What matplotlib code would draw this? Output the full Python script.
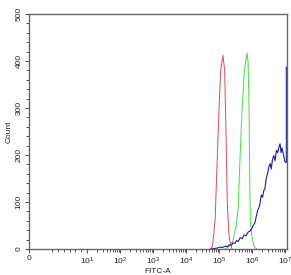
import matplotlib

matplotlib.use("Agg")

import matplotlib.pyplot as plt
from matplotlib.ticker import FixedLocator, FuncFormatter, NullFormatter

plt.rcParams["font.family"] = ["Liberation Sans", "DejaVu Sans"]
plt.rcParams["mathtext.fontset"] = "custom"
plt.rcParams["mathtext.rm"] = "Liberation Sans"
plt.rcParams["mathtext.it"] = "Liberation Sans"

# FITC-A intensity (log10) and event counts
red_log = [4.73, 4.80, 4.88, 4.95, 5.00, 5.05, 5.12, 5.17, 5.21, 5.25, 5.29, 5.33, 5.39]
red_count = [0, 5, 60, 200, 300, 380, 412, 380, 250, 100, 40, 17, 0]

green_log = [5.18, 5.30, 5.42, 5.52, 5.58, 5.64, 5.70, 5.77, 5.85, 5.88, 5.91, 5.93,
             5.95, 6.00, 6.05, 6.10, 6.15]
green_count = [0, 5, 17, 50, 88, 200, 300, 380, 417, 400, 300, 150, 60, 25, 8, 2, 0]

blue_log = [4.75, 4.85, 4.95, 5.03, 5.10, 5.18, 5.25, 5.32, 5.38, 5.42, 5.48, 5.53,
            5.58, 5.64, 5.70, 5.76, 5.82, 5.88, 5.94, 6.00, 6.05, 6.09, 6.13, 6.17,
            6.21, 6.24, 6.28, 6.32, 6.36, 6.39, 6.43, 6.47, 6.51, 6.55, 6.58, 6.62,
            6.66, 6.70, 6.74, 6.78, 6.82, 6.85, 6.88, 6.91, 6.94, 6.97, 7.00, 7.04, 7.04]
blue_count = [0, 1, 2, 4, 3, 6, 5, 9, 8, 13, 12, 18, 16, 24, 22, 30, 28, 36, 38, 45,
              52, 56, 70, 82, 88, 96, 115, 110, 125, 128, 150, 160, 175, 182, 170, 190,
              199, 188, 210, 205, 218, 224, 205, 215, 205, 195, 185, 184, 387]

x_major = [0, 1e1, 1e2, 1e3, 1e4, 1e5, 1e6, 1e7]
x_labels = ["0", "$10^{1}$", "$10^{2}$", "$10^{3}$", "$10^{4}$", "$10^{5}$", "$10^{6}$", "$10^{7}$"]
y_major = [0, 100, 200, 300, 400, 500]


def to_linear(values):
    return [10 ** v for v in values]


fig = plt.figure(figsize=(2.91, 2.75), dpi=100)
ax = fig.add_axes([29 / 291, 26 / 275, 258 / 291, 235 / 275])

ax.plot(to_linear(red_log), red_count, color="#e8484f", linewidth=0.7)
ax.plot(to_linear(green_log), green_count, color="#3ee03e", linewidth=0.7)
ax.plot(to_linear(blue_log), blue_count, color="#1a1aa8", linewidth=0.8)

ax.set_xscale("symlog", linthresh=10, linscale=1.584)
ax.set_xlim(0, 10 ** 7.06)
ax.set_ylim(0, 500)

ax.xaxis.set_major_locator(FixedLocator(x_major))
ax.xaxis.set_major_formatter(FuncFormatter(lambda v, pos: x_labels[pos]))
minor = [4, 5, 6, 7, 8, 9]
for k in range(1, 7):
    minor += [m * 10 ** k for m in range(2, 10)]
ax.xaxis.set_minor_locator(FixedLocator(minor))
ax.xaxis.set_minor_formatter(NullFormatter())

ax.yaxis.set_major_locator(FixedLocator(y_major))
ax.yaxis.set_minor_locator(FixedLocator(list(range(0, 501, 20))))
for label in ax.get_yticklabels():
    label.set_rotation(90)
    label.set_va("center")

ax.tick_params(axis="both", which="major", length=3, width=0.8, color="#555555",
               labelsize=6, pad=1.5, labelcolor="#222222")
ax.tick_params(axis="both", which="minor", length=2, width=0.7, color="#555555")

for spine in ax.spines.values():
    spine.set_color("#666666")
    spine.set_linewidth(1.0)

ax.set_xlabel("FITC-A", fontsize=6, labelpad=1, color="#222222")
ax.set_ylabel("Count", fontsize=6, labelpad=2, color="#222222")

fig.savefig("out.png", dpi=100, facecolor="white")
plt.close(fig)
